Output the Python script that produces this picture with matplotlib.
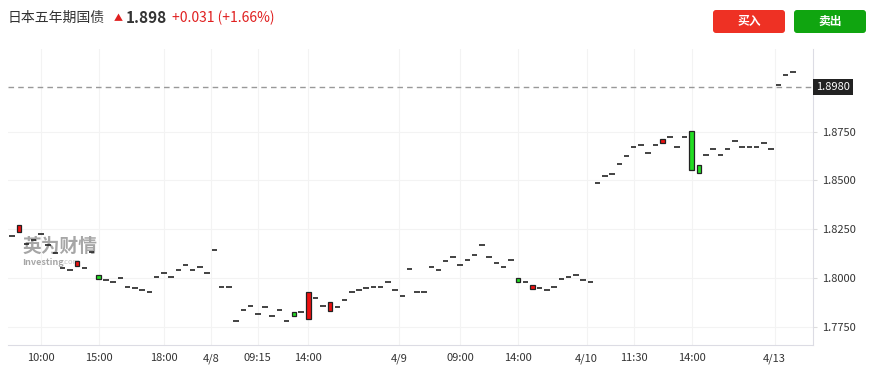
import matplotlib
matplotlib.use("Agg")
import matplotlib.pyplot as plt
from matplotlib.patches import FancyBboxPatch
from matplotlib.transforms import IdentityTransform

plt.rcParams["font.family"] = ["Noto Sans CJK SC", "DejaVu Sans"]

# open / close per bar (high and low equal the body here)
opens = [
    1.8215, 1.8236, 1.8174, 1.8195, 1.8226, 1.8169, 1.8128, 1.8051, 1.8041, 1.8062,
    1.8051, 1.8133, 1.8015, 1.7990, 1.7979, 1.8000, 1.7954, 1.7949, 1.7938, 1.7928,
    1.8005, 1.8026, 1.8005, 1.8041, 1.8067, 1.8041, 1.8056, 1.8026, 1.8144, 1.7954,
    1.7954, 1.7779, 1.7836, 1.7856, 1.7815, 1.7851, 1.7805, 1.7836, 1.7779, 1.7826,
    1.7826, 1.7790, 1.7897, 1.7856, 1.7831, 1.7851, 1.7887, 1.7928, 1.7938, 1.7949,
    1.7954, 1.7954, 1.7979, 1.7938, 1.7908, 1.8046, 1.7928, 1.7928, 1.8056, 1.8041,
    1.8087, 1.8108, 1.8067, 1.8092, 1.8118, 1.8169, 1.8108, 1.8077, 1.8056, 1.8092,
    1.8000, 1.7979, 1.7944, 1.7949, 1.7938, 1.7954, 1.7995, 1.8005, 1.8015, 1.7990,
    1.7979, 1.8487, 1.8523, 1.8533, 1.8585, 1.8626, 1.8672, 1.8682, 1.8641, 1.8682,
    1.8692, 1.8723, 1.8672, 1.8723, 1.8754, 1.8579, 1.8631, 1.8662, 1.8631, 1.8662,
    1.8703, 1.8672, 1.8672, 1.8672, 1.8692, 1.8662, 1.8990, 1.9041, 1.9056,
]
closes = list(opens)
closes[1] = 1.8272
closes[9] = 1.8087
closes[12] = 1.7995
closes[39] = 1.7805
closes[41] = 1.7928
closes[44] = 1.7877
closes[70] = 1.7979
closes[72] = 1.7964
closes[90] = 1.8713
closes[94] = 1.8554
closes[95] = 1.8538

tick_pos = [4, 12, 21, 27.5, 34, 41, 53.5, 62, 70, 79.5, 86, 94, 105.5]
tick_labels = ["10:00", "15:00", "18:00", "4/8", "09:15", "14:00", "4/9",
               "09:00", "14:00", "4/10", "11:30", "14:00", "4/13"]
y_ticks = [1.775, 1.800, 1.825, 1.850, 1.875]
last_price = 1.898

W, H = 873, 373
fig = plt.figure(figsize=(W / 100, H / 100), dpi=100)
ax = fig.add_axes([8 / W, (H - 345) / H, (813 - 8) / W, (345 - 49) / H])

up_color = "#ee1111"
down_color = "#22dd22"
for i, (o, c) in enumerate(zip(opens, closes)):
    if o == c:
        ax.hlines(o, i - 0.38, i + 0.38, color="#222222", lw=1.2, zorder=3)
    else:
        color = up_color if c > o else down_color
        ax.bar(i, abs(c - o), bottom=min(o, c), width=0.62, color=color,
               edgecolor="#222222", linewidth=0.9, zorder=3)

ax.axhline(last_price, color="#999999", lw=1, dashes=(4, 3), zorder=2)

ax.set_xlim(-0.55, 110.8)
ax.set_ylim(1.7656, 1.9174)
ax.set_xticks(tick_pos)
ax.set_xticklabels(tick_labels)
ax.set_yticks(y_ticks)
ax.set_yticklabels([f"{v:.4f}" for v in y_ticks])
ax.yaxis.tick_right()
ax.tick_params(axis="both", labelsize=8, colors="#333333", length=3,
               color="#dddddd")
ax.tick_params(axis="x", length=0, pad=6)
ax.grid(True, color="#f3f3f3", lw=0.8, zorder=0)

for side in ["top", "left"]:
    ax.spines[side].set_visible(False)
for side in ["right", "bottom"]:
    ax.spines[side].set_color("#dcdce4")

ax.text(1.004, last_price, f"{last_price:.4f}", transform=ax.get_yaxis_transform(),
        ha="left", va="center", fontsize=8, color="white",
        bbox=dict(boxstyle="square,pad=0.25", fc="#222222", ec="none"))

# watermark
ax.text(0.018, 0.333, "英为财情", transform=ax.transAxes, fontsize=13.5,
        fontweight="heavy", color="#a6a6a6", va="center", zorder=1)
ax.text(0.018, 0.28, "Investing", transform=ax.transAxes, fontsize=6.5,
        fontweight="bold", color="#a6a6a6", va="center", zorder=1)
ax.text(0.068, 0.28, ".com", transform=ax.transAxes, fontsize=5.5,
        color="#c8c8c8", va="center", zorder=1)

# header
def fy(y):
    return (H - y) / H

fig.text(8 / W, fy(18), "日本五年期国债", fontsize=10, color="#333333", va="center")
fig.text(114 / W, fy(19), "▲", fontsize=6.5, color="#e02020", va="center")
fig.text(126 / W, fy(18), "1.898", fontsize=11, fontweight="bold",
         color="#333333", va="center")
fig.text(172 / W, fy(18), "+0.031 (+1.66%)", fontsize=10, color="#e02020",
         va="center")

for x0, label, color in [(713, "买入", "#ee3124"), (794, "卖出", "#10a510")]:
    btn = FancyBboxPatch((x0, H - 33), 72, 23, boxstyle="round,pad=0,rounding_size=3",
                         transform=IdentityTransform(), fc=color, ec="none")
    fig.patches.append(btn)
    fig.text((x0 + 36) / W, fy(21.5), label, fontsize=8.5, fontweight="bold",
             color="white", ha="center", va="center")

fig.savefig("out.png", dpi=100)
